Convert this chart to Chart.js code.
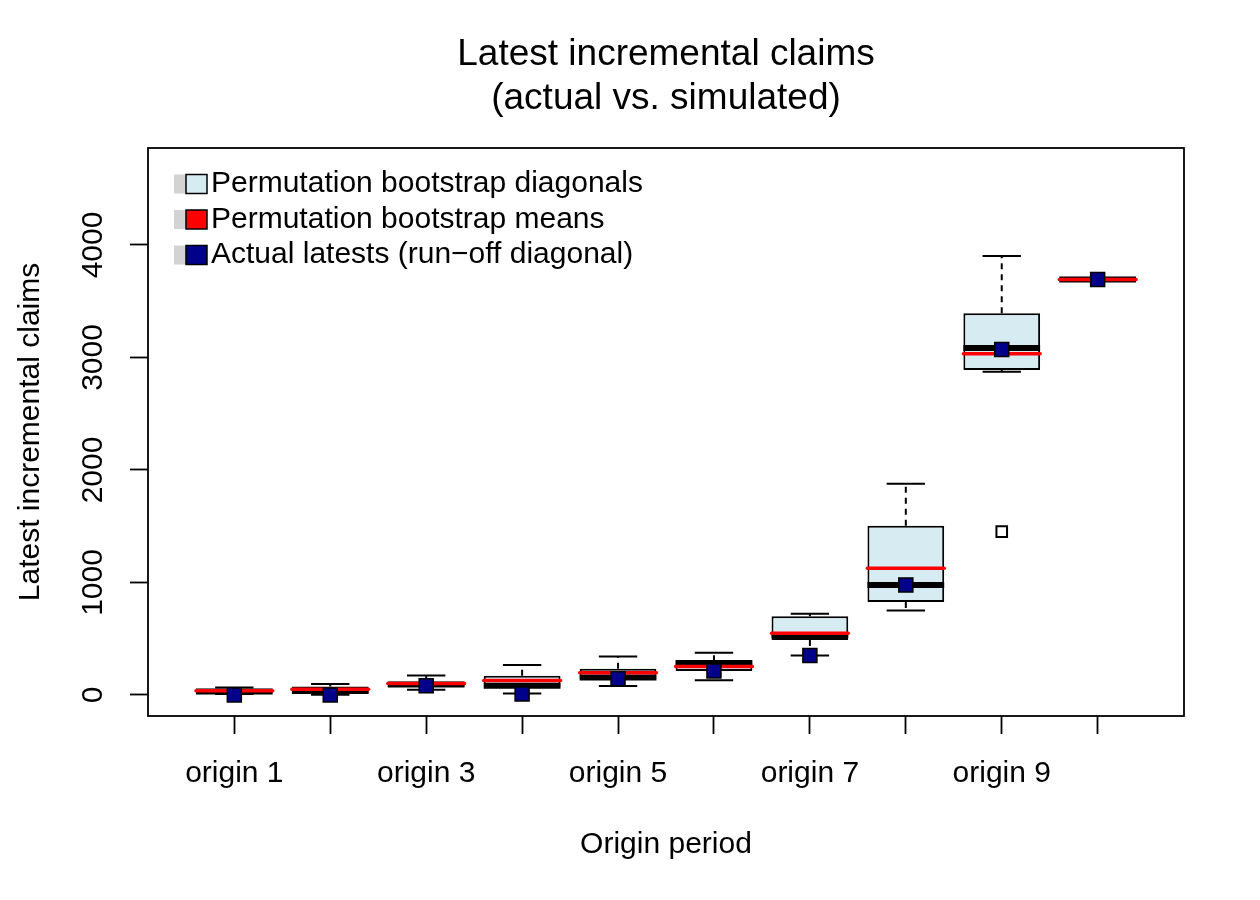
<!DOCTYPE html>
<html>
<head>
<meta charset="utf-8">
<title>Latest incremental claims</title>
<script src="https://cdn.jsdelivr.net/npm/chart.js@4.4.1/dist/chart.umd.min.js"></script>
<style>
  html, body { margin: 0; padding: 0; background: #fff; }
  #wrap { width: 1260px; height: 900px; }
</style>
</head>
<body>
<div id="wrap"><canvas id="claims" width="1260" height="900"></canvas></div>
<script>
// valeurs
const origins = ['origin 1', 'origin 2', 'origin 3', 'origin 4', 'origin 5',
                 'origin 6', 'origin 7', 'origin 8', 'origin 9', 'origin 10'];
const whiskerLow  = [8, 3, 47, 12, 80, 130, 350, 750, 2874, 3688];
const boxLow      = [22, 20, 74, 66, 140, 213, 489, 827, 2889, 3690];
const medians     = [30, 36, 92, 82, 155, 284, 530, 978, 3084, 3692];
const boxHigh     = [55, 75, 118, 170, 234, 299, 699, 1505, 3393, 3694];
const whiskerHigh = [66, 97, 172, 267, 341, 376, 723, 1878, 3902, 3696];
const means       = [38, 51, 101, 128, 198, 252, 548, 1126, 3034, 3692];
const actualLatest = [0, 0, 83, 9, 145, 213, 350, 978, 3070, 3692];
const outlierOrigin = [9];
const outlierValue  = [1452];
const yTicks = [0, 1000, 2000, 3000, 4000];

const legendLabels = ['Permutation bootstrap diagonals', 'Permutation bootstrap means',
                      'Actual latests (run\u2212off diagonal)'];
const legendColors = ['#D6EBF2', '#FF0000', '#00008B'];

const FONT = "'Liberation Sans', Arial, Helvetica, sans-serif";

// moustaches, médianes et moyennes dessinées par-dessus les boîtes
const boxExtras = {
    id: 'boxExtras',
    afterDatasetDraw(chart, args) {
        if (args.meta.type !== 'bar') return;
        const ctx = chart.ctx;
        const x = chart.scales.x, y = chart.scales.y;
        const px = v => x.getPixelForValue(v);
        const py = v => y.getPixelForValue(v);
        ctx.save();
        ctx.strokeStyle = '#000';
        origins.forEach((_, i) => {
            const c = i + 1;
            ctx.lineWidth = 2;
            ctx.lineCap = 'butt';
            ctx.setLineDash([6, 5]);
            ctx.beginPath();
            ctx.moveTo(px(c), py(boxHigh[i]));
            ctx.lineTo(px(c), py(whiskerHigh[i]));
            ctx.moveTo(px(c), py(boxLow[i]));
            ctx.lineTo(px(c), py(whiskerLow[i]));
            ctx.stroke();
            ctx.setLineDash([]);
            ctx.beginPath();
            ctx.moveTo(px(c - 0.2), py(whiskerHigh[i]));
            ctx.lineTo(px(c + 0.2), py(whiskerHigh[i]));
            ctx.moveTo(px(c - 0.2), py(whiskerLow[i]));
            ctx.lineTo(px(c + 0.2), py(whiskerLow[i]));
            ctx.stroke();
            // médiane
            ctx.lineWidth = 6;
            ctx.beginPath();
            ctx.moveTo(px(c - 0.4), py(medians[i]));
            ctx.lineTo(px(c + 0.4), py(medians[i]));
            ctx.stroke();
        });
        // moyennes en rouge
        ctx.strokeStyle = '#FF0000';
        ctx.lineWidth = 3.5;
        ctx.lineCap = 'round';
        origins.forEach((_, i) => {
            const c = i + 1;
            ctx.beginPath();
            ctx.moveTo(px(c - 0.4), py(means[i]));
            ctx.lineTo(px(c + 0.4), py(means[i]));
            ctx.stroke();
        });
        ctx.restore();
    }
};

// cadre du graphique et légende
const frameAndLegend = {
    id: 'frameAndLegend',
    afterDraw(chart) {
        const ctx = chart.ctx;
        const a = chart.chartArea;
        ctx.save();
        ctx.strokeStyle = '#000';
        ctx.lineWidth = 1.8;
        ctx.strokeRect(a.left, a.top, a.right - a.left, a.bottom - a.top);

        ctx.font = '30px ' + FONT;
        ctx.textBaseline = 'middle';
        ctx.textAlign = 'left';
        legendLabels.forEach((label, i) => {
            const cy = 184 + i * 35.5;
            ctx.fillStyle = '#D3D3D3';
            ctx.fillRect(174, cy - 9.5, 20, 19);
            ctx.fillStyle = legendColors[i];
            ctx.fillRect(186, cy - 9.5, 21, 19);
            ctx.lineWidth = 1.5;
            ctx.strokeStyle = '#000';
            ctx.strokeRect(186, cy - 9.5, 21, 19);
            ctx.fillStyle = '#000';
            ctx.fillText(label, 211, cy);
        });
        ctx.restore();
    }
};

const ctx = document.getElementById('claims').getContext('2d');
new Chart(ctx, {
    type: 'bar',
    data: {
        datasets: [
            {
                type: 'scatter',
                label: legendLabels[2],
                data: origins.map((_, i) => ({ x: i + 1, y: actualLatest[i] })),
                pointStyle: 'rect',
                pointRadius: 9.9,
                pointBackgroundColor: '#00008B',
                pointBorderColor: '#000',
                pointBorderWidth: 1.5,
                order: 1
            },
            {
                type: 'scatter',
                label: 'outliers',
                data: outlierOrigin.map((o, i) => ({ x: o, y: outlierValue[i] })),
                pointStyle: 'rect',
                pointRadius: 7.5,
                pointBackgroundColor: 'rgba(0,0,0,0)',
                pointBorderColor: '#000',
                pointBorderWidth: 2,
                order: 2
            },
            {
                type: 'bar',
                label: legendLabels[0],
                data: origins.map((_, i) => ({ x: i + 1, y: [boxLow[i], boxHigh[i]] })),
                backgroundColor: '#D6EBF2',
                borderColor: '#000',
                borderWidth: 2,
                borderSkipped: false,
                barPercentage: 1,
                categoryPercentage: 0.8,
                order: 3
            }
        ]
    },
    options: {
        responsive: false,
        animation: false,
        events: [],
        layout: { padding: { left: 0, right: 76, top: 0, bottom: 0 } },
        plugins: {
            legend: { display: false },
            tooltip: { enabled: false },
            title: {
                display: true,
                fullSize: false,
                text: ['Latest incremental claims', '(actual vs. simulated)'],
                color: '#000',
                font: { family: FONT, size: 37, weight: 'normal', lineHeight: 1.173 },
                padding: { top: 33.5, bottom: 27.7 }
            }
        },
        scales: {
            x: {
                type: 'linear',
                min: 0.1,
                max: 10.9,
                offset: false,
                afterFit: s => { s.height = 184; },
                afterBuildTicks: s => { s.ticks = origins.map((_, i) => ({ value: i + 1 })); },
                grid: { display: true, offset: false, drawOnChartArea: false, drawTicks: true,
                        tickLength: 18, tickColor: '#000', tickWidth: 1.8 },
                border: { display: false },
                ticks: {
                    autoSkip: false,
                    maxRotation: 0,
                    padding: 22,
                    color: '#000',
                    font: { family: FONT, size: 30 },
                    callback: (v, i) => (i % 2 === 0 ? origins[i] : '')
                },
                title: {
                    display: true,
                    text: 'Origin period',
                    color: '#000',
                    font: { family: FONT, size: 30 },
                    padding: { top: 0, bottom: 37 }
                }
            },
            y: {
                type: 'linear',
                min: -187,
                max: 4862,
                afterFit: s => { s.width = 148; },
                afterBuildTicks: s => { s.ticks = yTicks.map(v => ({ value: v })); },
                grid: { display: true, drawOnChartArea: false, drawTicks: true,
                        tickLength: 18, tickColor: '#000', tickWidth: 1.8 },
                border: { display: false },
                ticks: {
                    minRotation: 90,
                    maxRotation: 90,
                    crossAlign: 'center',
                    padding: 2.5,
                    color: '#000',
                    font: { family: FONT, size: 30 },
                    callback: v => String(v)
                },
                title: {
                    display: true,
                    text: 'Latest incremental claims',
                    color: '#000',
                    font: { family: FONT, size: 30 },
                    padding: { top: 13, bottom: 0 }
                }
            }
        }
    },
    plugins: [boxExtras, frameAndLegend]
});
</script>
</body>
</html>
